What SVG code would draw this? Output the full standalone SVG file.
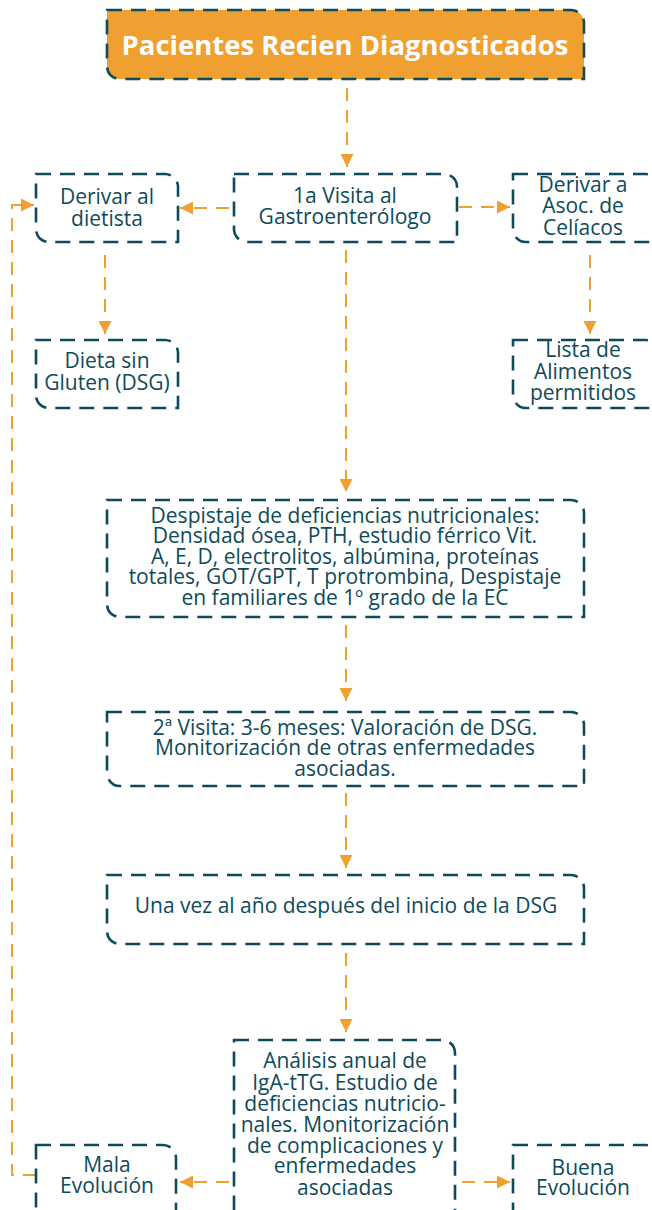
<svg xmlns="http://www.w3.org/2000/svg" width="652" height="1210" viewBox="0 0 652 1210">
<style>
.box{fill:#fff;stroke:#0e4a5a;stroke-width:2.6;stroke-dasharray:15 9}
.top{fill:#f0a030}
.t{font-family:"Open Sans","Noto Sans",sans-serif;font-size:21px;fill:#0e4a5a;text-anchor:middle}
.tw{font-family:"Open Sans","Noto Sans",sans-serif;font-size:27.5px;font-weight:bold;fill:#fff;text-anchor:middle}
.c{fill:none;stroke:#f0a030;stroke-width:2;stroke-dasharray:13 9;marker-end:url(#ah)}
</style>
<defs>
<marker id="ah" markerUnits="userSpaceOnUse" markerWidth="13" markerHeight="13" refX="13" refY="6.5" orient="auto">
<path d="M0,0 L13,6.5 L0,13 z" fill="#f0a030"/>
</marker>
</defs>
<rect width="652" height="1210" fill="#fff"/>
<g id="connectors">
<path class="c" d="M347 88 V167"/>
<path class="c" d="M229 208 H180"/>
<path class="c" d="M459 207 H510"/>
<path class="c" d="M105 255 V334"/>
<path class="c" d="M590 255 V334"/>
<path class="c" d="M346 250 V492"/>
<path class="c" d="M346 625 V701"/>
<path class="c" d="M346 793 V868"/>
<path class="c" d="M346 953 V1032"/>
<path class="c" d="M229 1182 H180"/>
<path class="c" d="M462 1182 H510"/>
<path class="c" d="M36 1175 H12 V205 H34"/>
</g>
<g id="n-pacientes">
<path class="box top" d="M107 10 H571 A13 13 0 0 1 584 23 V79 H120 A13 13 0 0 1 107 66 Z"/>
<text class="tw" x="345" y="55">Pacientes Recien Diagnosticados</text>
</g>
<g id="n-visita1">
<path class="box" d="M234 174 H444 A13 13 0 0 1 457 187 V242 H247 A13 13 0 0 1 234 229 Z"/>
<text class="t" x="345" y="203">1a Visita al</text>
<text class="t" x="345" y="224">Gastroenterólogo</text>
</g>
<g id="n-dietista">
<path class="box" d="M36 174 H165 A13 13 0 0 1 178 187 V242 H49 A13 13 0 0 1 36 229 Z"/>
<text class="t" x="107" y="204">Derivar al</text>
<text class="t" x="107" y="226">dietista</text>
</g>
<g id="n-asoc">
<path class="box" d="M513 174 H645 A13 13 0 0 1 658 187 V242 H526 A13 13 0 0 1 513 229 Z"/>
<text class="t" x="583" y="192">Derivar a</text>
<text class="t" x="583" y="213">Asoc. de</text>
<text class="t" x="583" y="235">Celíacos</text>
</g>
<g id="n-dieta">
<path class="box" d="M36 340 H165 A13 13 0 0 1 178 353 V408 H49 A13 13 0 0 1 36 395 Z"/>
<text class="t" x="107" y="368">Dieta sin</text>
<text class="t" x="107" y="390">Gluten (DSG)</text>
</g>
<g id="n-lista">
<path class="box" d="M513 340 H645 A13 13 0 0 1 658 353 V408 H526 A13 13 0 0 1 513 395 Z"/>
<text class="t" x="583" y="357">Lista de</text>
<text class="t" x="583" y="379">Alimentos</text>
<text class="t" x="583" y="400">permitidos</text>
</g>
<g id="n-despistaje">
<path class="box" d="M107 500 H571 A13 13 0 0 1 584 513 V617 H120 A13 13 0 0 1 107 604 Z"/>
<text class="t" x="345" y="523">Despistaje de deficiencias nutricionales:</text>
<text class="t" x="345" y="543">Densidad ósea, PTH, estudio férrico Vit.</text>
<text class="t" x="345" y="564">A, E, D, electrolitos, albúmina, proteínas</text>
<text class="t" x="345" y="584">totales, GOT/GPT, T protrombina, Despistaje</text>
<text class="t" x="345" y="605">en familiares de 1º grado de la EC</text>
</g>
<g id="n-visita2">
<path class="box" d="M107 712 H571 A13 13 0 0 1 584 725 V786 H120 A13 13 0 0 1 107 773 Z"/>
<text class="t" x="345" y="735">2ª Visita: 3-6 meses: Valoración de DSG.</text>
<text class="t" x="345" y="755">Monitorización de otras enfermedades</text>
<text class="t" x="345" y="776">asociadas.</text>
</g>
<g id="n-anual">
<path class="box" d="M107 875 H571 A13 13 0 0 1 584 888 V944 H120 A13 13 0 0 1 107 931 Z"/>
<text class="t" x="346" y="913">Una vez al año después del inicio de la DSG</text>
</g>
<g id="n-analisis">
<path class="box" d="M234 1040 H442 A13 13 0 0 1 455 1053 V1222 H247 A13 13 0 0 1 234 1209 Z"/>
<text class="t" x="345" y="1068">Análisis anual de</text>
<text class="t" x="345" y="1090">IgA-tTG. Estudio de</text>
<text class="t" x="345" y="1111">deficiencias nutricio-</text>
<text class="t" x="345" y="1132">nales. Monitorización</text>
<text class="t" x="345" y="1153">de complicaciones y</text>
<text class="t" x="345" y="1173">enfermedades</text>
<text class="t" x="345" y="1195">asociadas</text>
</g>
<g id="n-mala">
<path class="box" d="M36 1145 H163 A13 13 0 0 1 176 1158 V1222 H49 A13 13 0 0 1 36 1209 Z"/>
<text class="t" x="107" y="1172">Mala</text>
<text class="t" x="107" y="1193">Evolución</text>
</g>
<g id="n-buena">
<path class="box" d="M513 1145 H645 A13 13 0 0 1 658 1158 V1222 H526 A13 13 0 0 1 513 1209 Z"/>
<text class="t" x="583" y="1175">Buena</text>
<text class="t" x="583" y="1195">Evolución</text>
</g>
</svg>
